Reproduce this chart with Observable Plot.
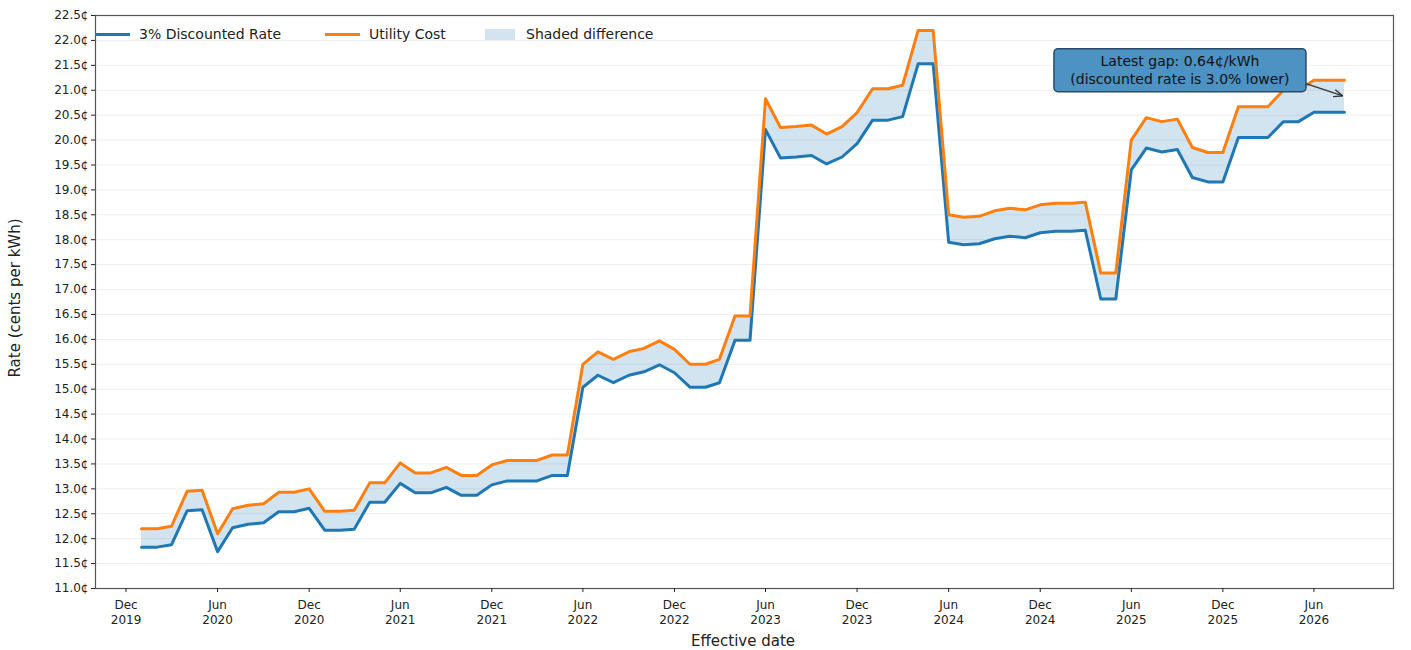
<!DOCTYPE html>
<html>
<head>
<meta charset="utf-8">
<script src="https://cdn.jsdelivr.net/npm/d3@7"></script>
<script src="https://cdn.jsdelivr.net/npm/@observablehq/plot@0.6"></script>
<style>
  body { margin: 0; background: #fff; font-family: "DejaVu Sans", sans-serif; }
  #wrap { position: relative; width: 1411px; height: 650px; overflow: hidden; }
  .leg { position: absolute; top: 25px; height: 18px; display: flex; align-items: center; font-size: 14px; color: #222; white-space: nowrap; }
  .sw { width: 35px; height: 3px; margin-right: 9px; }
  .sw.area { width: 30px; height: 11px; margin-right: 11px; }
  #ytitle { position: absolute; left: 15px; top: 298px; transform: translate(-50%, -50%) rotate(-90deg); font-size: 15px; color: #222; white-space: nowrap; }
  #xtitle { position: absolute; left: 743px; top: 641px; transform: translate(-50%, -50%); font-size: 15px; color: #222; white-space: nowrap; }
</style>
</head>
<body>
<div id="wrap"></div>
<script>
// ---- data ----
const dates = [
  "2020-01","2020-02","2020-03","2020-04","2020-05","2020-06","2020-07","2020-08","2020-09","2020-10","2020-11","2020-12",
  "2021-01","2021-02","2021-03","2021-04","2021-05","2021-06","2021-07","2021-08","2021-09","2021-10","2021-11","2021-12",
  "2022-01","2022-02","2022-03","2022-04","2022-05","2022-06","2022-07","2022-08","2022-09","2022-10","2022-11","2022-12",
  "2023-01","2023-02","2023-03","2023-04","2023-05","2023-06","2023-07","2023-08","2023-09","2023-10","2023-11","2023-12",
  "2024-01","2024-02","2024-03","2024-04","2024-05","2024-06","2024-07","2024-08","2024-09","2024-10","2024-11","2024-12",
  "2025-01","2025-02","2025-03","2025-04","2025-05","2025-06","2025-07","2025-08","2025-09","2025-10","2025-11","2025-12",
  "2026-01","2026-02","2026-03","2026-04","2026-05","2026-06","2026-07","2026-08"
];
const utilityCost = [
  12.20,12.20,12.25,12.95,12.97,12.10,12.60,12.67,12.70,12.93,12.93,13.00,
  12.55,12.55,12.57,13.12,13.12,13.52,13.32,13.32,13.43,13.27,13.27,13.48,
  13.57,13.57,13.57,13.68,13.68,15.50,15.75,15.60,15.75,15.82,15.97,15.80,
  15.50,15.50,15.60,16.47,16.47,20.83,20.25,20.27,20.30,20.12,20.27,20.55,
  21.03,21.03,21.10,22.20,22.20,18.50,18.45,18.47,18.58,18.63,18.60,18.70,
  18.73,18.73,18.75,17.33,17.33,20.00,20.45,20.37,20.42,19.85,19.75,19.75,
  20.67,20.67,20.67,21.00,21.00,21.20,21.20,21.20
];
const discountedRate = [
  11.83,11.83,11.88,12.56,12.58,11.74,12.22,12.29,12.32,12.54,12.54,12.61,
  12.17,12.17,12.19,12.73,12.73,13.11,12.92,12.92,13.03,12.87,12.87,13.08,
  13.16,13.16,13.16,13.27,13.27,15.04,15.28,15.13,15.28,15.35,15.49,15.33,
  15.04,15.04,15.13,15.98,15.98,20.21,19.64,19.66,19.69,19.52,19.66,19.93,
  20.40,20.40,20.47,21.53,21.53,17.95,17.90,17.92,18.02,18.07,18.04,18.14,
  18.17,18.17,18.19,16.81,16.81,19.40,19.84,19.76,19.81,19.25,19.16,19.16,
  20.05,20.05,20.05,20.37,20.37,20.56,20.56,20.56
];
const yTicks = [11.0,11.5,12.0,12.5,13.0,13.5,14.0,14.5,15.0,15.5,16.0,16.5,17.0,17.5,18.0,18.5,19.0,19.5,20.0,20.5,21.0,21.5,22.0,22.5];
const xTicks = ["2019-12","2020-06","2020-12","2021-06","2021-12","2022-06","2022-12","2023-06","2023-12","2024-06","2024-12","2025-06","2025-12","2026-06"];
const monthNames = ["Jan","Feb","Mar","Apr","May","Jun","Jul","Aug","Sep","Oct","Nov","Dec"];
const seriesNames = ["3% Discounted Rate", "Utility Cost", "Shaded difference"];
const annotationLines = ["Latest gap: 0.64¢/kWh", "(discounted rate is 3.0% lower)"];

const toDate = s => new Date(s + "-01T00:00:00Z");
const rows = dates.map((d, i) => ({ date: toDate(d), utility: utilityCost[i], discounted: discountedRate[i] }));

const blue = "#1f77b4", orange = "#ff7f0e";

const chart = Plot.plot({
  width: 1411,
  height: 650,
  marginLeft: 95,
  marginRight: 18,
  marginTop: 15,
  marginBottom: 62,
  style: { fontFamily: "DejaVu Sans, sans-serif", fontSize: "12px", color: "#222", background: "#fff" },
  x: { type: "utc", domain: [toDate("2019-10"), new Date("2026-11-07T00:00:00Z")] },
  y: { domain: [11, 22.5] },
  marks: [
    Plot.gridY(yTicks, { stroke: "#000", strokeOpacity: 0.07, strokeWidth: 1 }),
    Plot.areaY(rows, { x: "date", y1: "discounted", y2: "utility", fill: blue, fillOpacity: 0.2 }),
    Plot.lineY(rows, { x: "date", y: "discounted", stroke: blue, strokeWidth: 3 }),
    Plot.lineY(rows, { x: "date", y: "utility", stroke: orange, strokeWidth: 3 }),
    Plot.frame({ stroke: "#555", strokeWidth: 1.2 }),
    Plot.axisY(yTicks, { tickFormat: d => d.toFixed(1) + "¢", tickSize: 4, tickPadding: 3, label: null, fontSize: 12 }),
    Plot.axisX(xTicks.map(toDate), {
      tickFormat: d => monthNames[d.getUTCMonth()] + "\n" + d.getUTCFullYear(),
      tickSize: 4, tickPadding: 6, label: null, fontSize: 12, lineHeight: 1.25
    })
  ]
});

const wrap = document.getElementById("wrap");
wrap.appendChild(chart);

// annotation using the plot's own scales
const sx = chart.scale("x"), sy = chart.scale("y");
const last = rows[rows.length - 1];
const px = sx.apply(last.date), py = sy.apply((last.utility + last.discounted) / 2);
const svg = d3.select(chart);
const defs = svg.append("defs");
defs.append("marker").attr("id", "ah").attr("viewBox", "0 0 10 10").attr("refX", 9).attr("refY", 5)
  .attr("markerWidth", 7).attr("markerHeight", 7).attr("orient", "auto")
  .append("path").attr("d", "M0,1 L10,5 L0,9").attr("fill", "none").attr("stroke", "#333").attr("stroke-width", 1.5);
const g = svg.append("g");
g.append("line").attr("x1", px - 38).attr("y1", py - 12).attr("x2", px - 2).attr("y2", py)
  .attr("stroke", "#333").attr("stroke-width", 1.3).attr("marker-end", "url(#ah)");
g.append("rect").attr("x", px - 290).attr("y", py - 47).attr("width", 252).attr("height", 43)
  .attr("rx", 4).attr("fill", "#4c92c3").attr("stroke", "#2b4a66").attr("stroke-width", 1.5);
annotationLines.forEach((t, i) => {
  g.append("text").attr("x", px - 164).attr("y", py - 34 + i * 18).attr("text-anchor", "middle")
    .attr("dominant-baseline", "middle").attr("font-size", 14).attr("fill", "#111")
    .attr("font-family", "DejaVu Sans, sans-serif").text(t);
});

// legend
const legLefts = [95, 325, 485];
const legStyles = [
  { cls: "sw", bg: blue },
  { cls: "sw", bg: orange },
  { cls: "sw area", bg: "rgba(31,119,180,0.2)" }
];
seriesNames.forEach((name, i) => {
  const item = document.createElement("div");
  item.className = "leg";
  item.style.left = legLefts[i] + "px";
  const sw = document.createElement("span");
  sw.className = legStyles[i].cls;
  sw.style.background = legStyles[i].bg;
  item.appendChild(sw);
  item.appendChild(document.createTextNode(name));
  wrap.appendChild(item);
});

const yt = document.createElement("div"); yt.id = "ytitle"; yt.textContent = "Rate (cents per kWh)"; wrap.appendChild(yt);
const xt = document.createElement("div"); xt.id = "xtitle"; xt.textContent = "Effective date"; wrap.appendChild(xt);
</script>
</body>
</html>
